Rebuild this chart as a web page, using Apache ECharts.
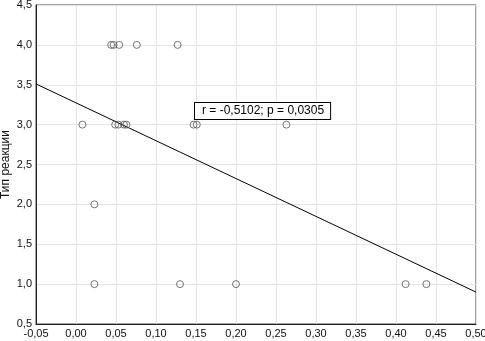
<!DOCTYPE html>
<html>
<head>
<meta charset="utf-8">
<script src="https://cdn.jsdelivr.net/npm/echarts@6/dist/echarts.min.js"></script>
<style>html,body{margin:0;padding:0;background:#fff}#c{width:485px;height:341px}</style>
</head>
<body>
<div id="c"></div>
<script>
var xValues = [0.044, 0.047, 0.054, 0.076, 0.127,
               0.008, 0.049, 0.053, 0.060, 0.063, 0.147, 0.151, 0.263,
               0.023,
               0.023, 0.130, 0.200, 0.412, 0.438];
var yValues = [4, 4, 4, 4, 4,
               3, 3, 3, 3, 3, 3, 3, 3,
               2,
               1, 1, 1, 1, 1];
var regX = [-0.05, 0.50];
var regY = [3.51, 0.90];
var yTitle = 'Тип реакции';
var statText = 'r = -0,5102; p = 0,0305';

var pts = xValues.map(function (x, i) { return [x, yValues[i]]; });
var line = regX.map(function (x, i) { return [x, regY[i]]; });
var font = 'Liberation Sans, Arial, sans-serif';

var chart = echarts.init(document.getElementById('c'));
chart.setOption({
  animation: false,
  backgroundColor: '#fff',
  grid: { left: 36, right: 9, top: 5, bottom: 17, show: true, borderColor: '#444', borderWidth: 1,
          containLabel: false, outerBoundsMode: 'none' },
  xAxis: {
    type: 'value', min: -0.05, max: 0.5, interval: 0.05,
    axisLine: { show: true, onZero: false, lineStyle: { color: '#222' } },
    axisTick: { show: false },
    splitLine: { show: true, lineStyle: { color: '#e4e4e4', width: 1 } },
    axisLabel: { color: '#111', fontFamily: font, fontSize: 11, margin: 4, hideOverlap: false,
      formatter: function (v) { return v.toFixed(2).replace('.', ','); } }
  },
  yAxis: {
    type: 'value', min: 0.5, max: 4.5, interval: 0.5,
    name: yTitle, nameLocation: 'middle', nameGap: 24, nameMoveOverlap: false,
    nameTextStyle: { color: '#111', fontFamily: font, fontSize: 12 },
    axisLine: { show: true, onZero: false, lineStyle: { color: '#222' } },
    axisTick: { show: false },
    splitLine: { show: true, lineStyle: { color: '#e4e4e4', width: 1 } },
    axisLabel: { color: '#111', fontFamily: font, fontSize: 11, margin: 4, hideOverlap: false,
      formatter: function (v) { return v.toFixed(1).replace('.', ','); } }
  },
  series: [
    {
      type: 'line', data: line, symbol: 'none', silent: true,
      lineStyle: { color: '#000', width: 1 }, z: 2
    },
    {
      type: 'scatter', data: pts, symbol: 'circle', symbolSize: 7,
      itemStyle: { color: 'rgba(255,255,255,0)', borderColor: '#555', borderWidth: 1 }, z: 3
    }
  ],
  graphic: [{
    type: 'text', left: 194, top: 102, z: 10,
    style: {
      text: statText, fill: '#000', font: '12px ' + font,
      backgroundColor: '#fff', borderColor: '#000', borderWidth: 1,
      padding: [2, 6, 2, 7]
    }
  }]
});
</script>
</body>
</html>
